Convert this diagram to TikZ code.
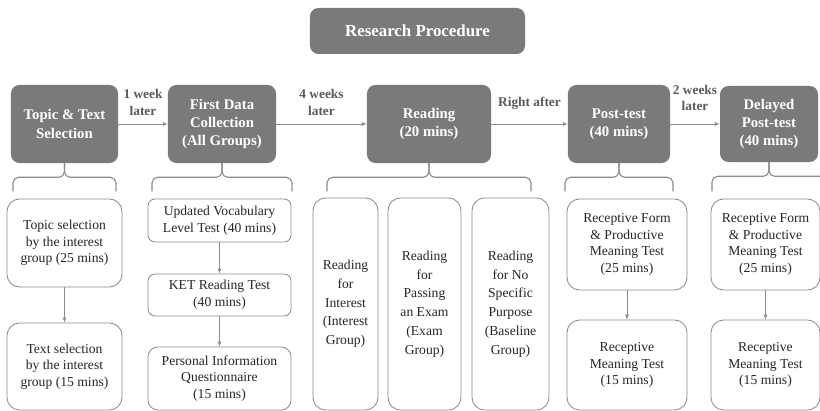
\documentclass[tikz,border=0pt]{standalone}
\usepackage{fontspec}
\setmainfont{Liberation Serif}
\usetikzlibrary{arrows.meta}
\definecolor{boxgray}{HTML}{7A7A7C}
\definecolor{linegray}{HTML}{8C8C8C}
\definecolor{labelgray}{HTML}{5A5A5A}

\begin{document}
\begin{tikzpicture}[x=0.025cm,y=-0.025cm,line cap=round,line join=round,
	stagebox/.style={fill=boxgray,rounded corners=6pt,text=white,align=center,inner sep=1pt,font=\fontsize{10.5}{13}\selectfont\bfseries},
	taskbox/.style={draw=linegray,line width=0.6pt,fill=white,rounded corners=7pt,align=center,inner sep=1pt,text=black!85,font=\fontsize{9.7}{11.9}\selectfont},
	flowarrow/.style={draw=linegray,line width=0.6pt,-{Latex[length=3.5pt,width=3pt]}},
	waitlabel/.style={font=\fontsize{9.5}{11.5}\selectfont\bfseries,text=labelgray,align=center,inner sep=1pt},
	bracketline/.style={draw=linegray,line width=0.8pt,rounded corners=4pt}]
	\useasboundingbox (0,0) rectangle (820,411);
	% title
	\node[stagebox,minimum width=5.375cm,minimum height=1.15cm,font=\fontsize{12}{14}\selectfont\bfseries] (title) at (417.5,31) {Research Procedure};
	% stages
	\node[stagebox,minimum width=2.675cm,minimum height=1.95cm] (topic) at (64.5,124) {Topic \& Text\\Selection};
	\node[stagebox,minimum width=2.7cm,minimum height=1.95cm] (first) at (222,124) {First Data\\Collection\\(All Groups)};
	\node[stagebox,minimum width=3.1cm,minimum height=1.95cm] (reading) at (429,124) {Reading\\(20 mins)};
	\node[stagebox,minimum width=2.55cm,minimum height=1.95cm] (post) at (619,124) {Post-test\\(40 mins)};
	\node[stagebox,minimum width=2.45cm,minimum height=1.9cm] (delayed) at (769,124) {Delayed\\Post-test\\(40 mins)};
	\draw[flowarrow] (topic) -- node[waitlabel,above=5pt] (wait1) {1 week\\later} (first);
	\draw[flowarrow] (first) -- node[waitlabel,above=5pt] (wait2) {4 weeks\\later} (reading);
	\draw[flowarrow] (reading) -- node[waitlabel,above=9pt] (wait3) {Right after} (post);
	\draw[flowarrow] (post) -- node[waitlabel,above=8pt] (wait4) {2 weeks\\later} (delayed);
	% brackets
	\foreach \n/\l/\r in {topic/13/116,first/152/292,reading/327/531,post/565/673,delayed/712/826}{
		\draw[bracketline] (\n.south) -- ++(0,14) -| (\l,191);
		\draw[bracketline] (\n.south) -- ++(0,14) -| (\r,191);
	}
	% topic and text selection
	\node[taskbox,minimum width=2.875cm,minimum height=2.2cm,rounded corners=9pt] (tsel1) at (64.5,243) {Topic selection\\by the interest\\group (25 mins)};
	\node[taskbox,minimum width=2.875cm,minimum height=2.175cm,rounded corners=9pt] (tsel2) at (64.5,366.5) {Text selection\\by the interest\\group (15 mins)};
	\draw[flowarrow] (tsel1) -- (tsel2);
	% first data collection
	\node[taskbox,minimum width=3.575cm,minimum height=1.075cm,rounded corners=5pt] (vlt) at (219.5,220.5) {Updated Vocabulary\\Level Test (40 mins)};
	\node[taskbox,minimum width=3.575cm,minimum height=1.05cm,rounded corners=5pt] (ket) at (219.5,295) {KET Reading Test\\(40 mins)};
	\node[taskbox,minimum width=3.575cm,minimum height=1.575cm] (piq) at (219.5,378.5) {Personal Information\\Questionnaire\\(15 mins)};
	\draw[flowarrow] (vlt) -- (ket);
	\draw[flowarrow] (ket) -- (piq);
	% reading groups
	\node[taskbox,minimum width=1.625cm,minimum height=5.3cm,rounded corners=9pt,font=\fontsize{9.7}{13.3}\selectfont] (rint) at (345.5,304) {Reading\\for\\Interest\\(Interest\\Group)};
	\node[taskbox,minimum width=1.825cm,minimum height=5.3cm,rounded corners=9pt,font=\fontsize{9.7}{13.3}\selectfont] (rexam) at (424.5,304) {Reading\\for\\Passing\\an Exam\\(Exam\\Group)};
	\node[taskbox,minimum width=1.925cm,minimum height=5.3cm,rounded corners=9pt,font=\fontsize{9.7}{13.3}\selectfont] (rbase) at (510.5,304) {Reading\\for No\\Specific\\Purpose\\(Baseline\\Group)};
	% post-test
	\node[taskbox,minimum width=3cm,minimum height=2.275cm,rounded corners=9pt] (pt1) at (627,244.5) {Receptive Form\\\& Productive\\Meaning Test\\(25 mins)};
	\node[taskbox,minimum width=3cm,minimum height=2.25cm,rounded corners=9pt] (pt2) at (627,365) {Receptive\\Meaning Test\\(15 mins)};
	\draw[flowarrow] (pt1) -- (pt2);
	% delayed post-test
	\node[taskbox,minimum width=2.725cm,minimum height=2.275cm,rounded corners=9pt] (dt1) at (765.5,244.5) {Receptive Form\\\& Productive\\Meaning Test\\(25 mins)};
	\node[taskbox,minimum width=2.725cm,minimum height=2.25cm,rounded corners=9pt] (dt2) at (765.5,365) {Receptive\\Meaning Test\\(15 mins)};
	\draw[flowarrow] (dt1) -- (dt2);
\end{tikzpicture}
\end{document}
